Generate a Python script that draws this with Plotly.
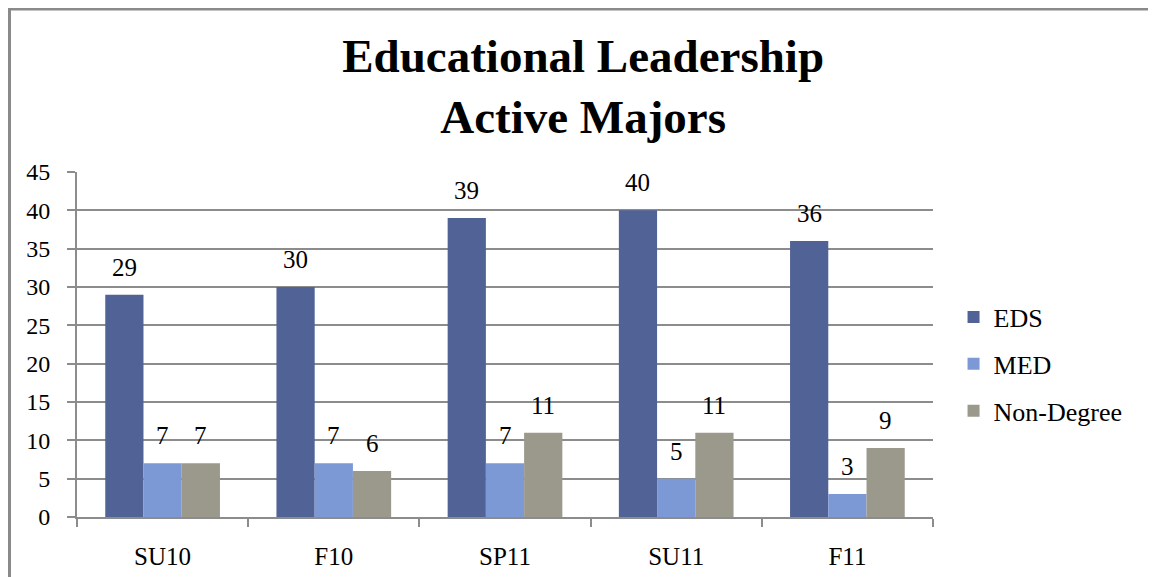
import plotly.graph_objects as go

terms = ["SU10", "F10", "SP11", "SU11", "F11"]
eds = [29, 30, 39, 40, 36]
med = [7, 7, 7, 5, 3]
non_degree = [7, 6, 11, 11, 9]

# page has an 8px body margin, so the figure is sized/offset to compensate
W, H = 1148, 569
L, R, T, B = 69, 223, 164, 60
FONT = "Liberation Serif, Times New Roman, serif"
BARGAP = 0.33

series = [("EDS", eds, "#506296"),
          ("MED", med, "#7C99D6"),
          ("Non-Degree", non_degree, "#9B988C")]

pw, ph = W - L - R, H - T - B
bar_px = pw / len(terms) * (1 - BARGAP) / len(series)

fig = go.Figure()
for i, (name, vals, col) in enumerate(series):
    fig.add_trace(go.Bar(x=terms, y=vals, name=name, legendgroup=name,
                         marker=dict(color=col, line=dict(width=0))))
    # value labels above each bar, with some air like the original
    for t, v in zip(terms, vals):
        fig.add_annotation(x=t, y=v, text=str(v), showarrow=False, yanchor="bottom",
                           xshift=(i - 1) * bar_px, yshift=12,
                           font=dict(family=FONT, size=25, color="black"))

# outer chart border (top-left visible, runs off the right/bottom edge)
fig.add_shape(type="rect", xref="paper", yref="paper",
              x0=(1.5 - L) / pw, x1=(W + 10 - L) / pw,
              y0=-(H + 10 - T - ph) / ph, y1=(H - 1 - B) / ph,
              line=dict(color="#8a8a8a", width=3), layer="below")

fig.update_layout(
    width=W, height=H,
    margin=dict(l=L, r=R, t=T, b=B),
    paper_bgcolor="white", plot_bgcolor="white",
    font=dict(family=FONT, size=23, color="black"),
    title=dict(text="<b>Educational Leadership<br>Active Majors</b>", x=0.501, xref="container",
               xanchor="center", y=0.887, yref="container", yanchor="middle",
               font=dict(family=FONT, size=47, color="black")),
    barmode="group", bargap=BARGAP, bargroupgap=0,
    legend=dict(x=1.024, xanchor="left", y=0.443, yanchor="middle",
                font=dict(family=FONT, size=26), itemwidth=30, tracegroupgap=10,
                bgcolor="rgba(0,0,0,0)"),
    showlegend=True,
)
fig.update_yaxes(range=[0, 45], dtick=5, showgrid=True, gridcolor="#8c8c8c", gridwidth=2,
                 showline=True, linecolor="#8c8c8c", linewidth=2, automargin=False,
                 ticks="outside", ticklen=8, tickcolor="#8c8c8c", tickwidth=2,
                 ticklabelstandoff=12, tickfont=dict(family=FONT, size=24), zeroline=False)
fig.update_xaxes(showline=True, linecolor="#8c8c8c", linewidth=2, tickson="boundaries",
                 ticks="outside", ticklen=8, tickcolor="#8c8c8c", tickwidth=2, automargin=False,
                 ticklabelstandoff=16, showgrid=False, tickfont=dict(family=FONT, size=25))

fig.write_html("out.html")
